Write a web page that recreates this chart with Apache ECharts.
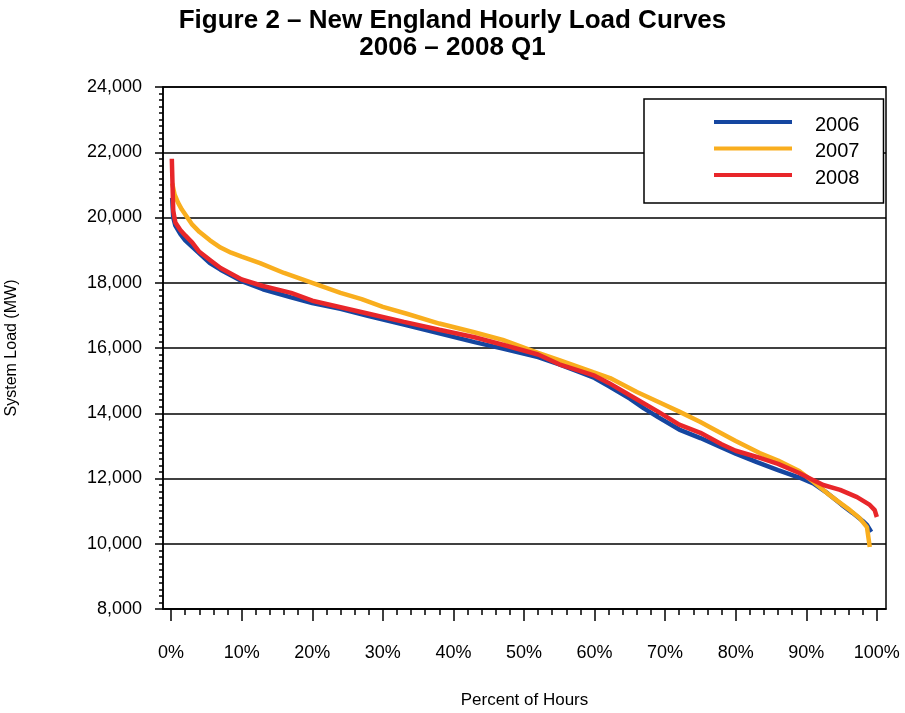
<!DOCTYPE html>
<html>
<head>
<meta charset="utf-8">
<script src="https://cdn.jsdelivr.net/npm/echarts@6/dist/echarts.min.js"></script>
<style>
  html, body { margin: 0; padding: 0; background: #fff; }
  #chart { width: 905px; height: 713px; }
</style>
</head>
<body>
<div id="chart"></div>
<script>
// load duration curves (percent of hours -> MW)
const pct2006 = [0.15, 0.3, 0.6, 1.3, 2, 3, 4, 5.5, 7, 10, 13, 17, 20, 24, 28, 33, 38, 43, 47, 52, 55, 58, 60, 62, 65, 67, 69, 72, 75, 78, 80, 83, 86, 89, 91, 93, 95, 96.6, 98, 98.6, 99.2]
const load2006 = [20600, 20000, 19750, 19500, 19300, 19100, 18900, 18600, 18400, 18050, 17800, 17550, 17380, 17200, 16980, 16720, 16450, 16180, 15980, 15720, 15500, 15250, 15080, 14830, 14450, 14150, 13880, 13500, 13240, 12950, 12760, 12500, 12260, 12030, 11850, 11550, 11200, 10940, 10700, 10580, 10360]

const pct2007 = [0.15, 0.5, 1, 1.5, 2.3, 3, 4, 5.5, 7, 8.5, 10, 12.6, 16, 19.7, 24, 27, 30, 33.4, 38, 42.8, 47, 52, 55, 59.8, 62.2, 66, 69.3, 72, 75, 76.3, 80, 83.4, 86, 89, 91, 92.9, 94.5, 96.2, 97.5, 98.6, 99]
const load2007 = [21050, 20700, 20450, 20250, 20000, 19780, 19560, 19300, 19080, 18920, 18800, 18600, 18300, 18020, 17690, 17500, 17260, 17050, 16750, 16490, 16250, 15850, 15630, 15260, 15080, 14650, 14320, 14050, 13730, 13580, 13150, 12780, 12550, 12230, 11900, 11560, 11300, 11030, 10800, 10510, 9900]

const pct2008 = [0.1, 0.2, 0.3, 0.6, 1.3, 2, 3, 4, 5.5, 7, 10, 13, 17, 20, 24, 28, 33, 38, 43, 47, 52, 55, 58, 60, 62, 65, 67, 69, 72, 75, 78, 80, 83, 86, 89, 91, 92.4, 94.8, 97.2, 99, 99.7, 100]
const load2008 = [21800, 21000, 20200, 19850, 19620, 19450, 19230, 18950, 18700, 18450, 18100, 17900, 17690, 17450, 17250, 17050, 16800, 16560, 16330, 16100, 15800, 15500, 15290, 15150, 14930, 14550, 14300, 14050, 13650, 13400, 13050, 12850, 12660, 12450, 12170, 11950, 11800, 11650, 11430, 11190, 11030, 10820]

const years = ['2006', '2007', '2008']
const colors = ['#1546a0', '#f9ae1e', '#e8262a']

const xMajorTicks = [0, 10, 20, 30, 40, 50, 60, 70, 80, 90, 100]
const xMinorTicks = [2, 4, 6, 8, 12, 14, 16, 18, 22, 24, 26, 28, 32, 34, 36, 38, 42, 44, 46, 48, 52, 54, 56, 58, 62, 64, 66, 68, 72, 74, 76, 78, 82, 84, 86, 88, 92, 94, 96, 98]

const zip = (xs, ys) => xs.map((x, i) => [x, ys[i]])
const allPct = [pct2006, pct2007, pct2008]
const allLoad = [load2006, load2007, load2008]

const FONT = '"Liberation Sans", Arial, sans-serif'
// thick legend line sitting a little above the middle of its row
const legendIcon = 'path://M0,0H78V4H0Z M0,9.9H0.01V10H0Z'
const myChart = echarts.init(document.getElementById('chart'))

myChart.setOption({
  animation: false,
  title: {
    text: 'Figure 2 – New England Hourly Load Curves\n2006 – 2008 Q1',
    left: 'center',
    top: 2,
    textStyle: { fontFamily: FONT, fontSize: 26, fontWeight: 'bold', color: '#000', lineHeight: 27 }
  },
  legend: {
    orient: 'vertical',
    left: 644,
    top: 99,
    data: years,
    icon: legendIcon,
    itemWidth: 78,
    itemHeight: 10,
    itemGap: 6.5,
    padding: [16, 24, 15, 70],
    backgroundColor: '#fff',
    borderColor: '#000',
    borderWidth: 1.5,
    borderRadius: 0,
    textStyle: { fontFamily: FONT, fontSize: 20, color: '#000', padding: [0, 0, 0, 18] }
  },
  grid: {
    left: 163,
    right: 19,
    top: 87,
    bottom: 104,
    outerBoundsMode: 'none',
    show: true,
    borderColor: '#000',
    borderWidth: 1.5
  },
  xAxis: [
    {
      type: 'value',
      min: -1.15,
      max: 101.3,
      name: 'Percent of Hours',
      nameLocation: 'middle',
      nameGap: 83,
      nameTextStyle: { fontFamily: FONT, fontSize: 17, color: '#000' },
      axisLine: { onZero: false, lineStyle: { color: '#000', width: 1.5 } },
      axisTick: { customValues: xMajorTicks, length: 12, lineStyle: { color: '#000', width: 1.5 } },
      axisLabel: {
        customValues: xMajorTicks,
        margin: 35,
        fontFamily: FONT,
        fontSize: 18,
        color: '#000',
        formatter: v => v + '%'
      },
      splitLine: { show: false }
    },
    {
      type: 'value',
      min: -1.15,
      max: 101.3,
      position: 'bottom',
      axisLine: { show: false, onZero: false },
      axisTick: { customValues: xMinorTicks, length: 6, lineStyle: { color: '#000', width: 1.5 } },
      axisLabel: { show: false },
      splitLine: { show: false }
    }
  ],
  yAxis: {
    type: 'value',
    min: 8000,
    max: 24000,
    interval: 2000,
    name: 'System Load (MW)',
    nameLocation: 'middle',
    nameGap: 143,
    nameTextStyle: { fontFamily: FONT, fontSize: 16, color: '#000' },
    axisLine: { show: true, onZero: false, lineStyle: { color: '#000', width: 1.5 } },
    axisTick: { show: true, length: 8, lineStyle: { color: '#000', width: 1.5 } },
    minorTick: { show: true, splitNumber: 10, length: 4, lineStyle: { color: '#000', width: 1.5 } },
    axisLabel: {
      margin: 21,
      fontFamily: FONT,
      fontSize: 18,
      color: '#000',
      formatter: v => v.toLocaleString('en-US')
    },
    splitLine: { show: true, lineStyle: { color: '#000', width: 1.5 } }
  },
  series: years.map((y, i) => ({
    name: y,
    type: 'line',
    xAxisIndex: 0,
    showSymbol: false,
    data: zip(allPct[i], allLoad[i]),
    lineStyle: { color: colors[i], width: 4.5 },
    itemStyle: { color: colors[i] }
  }))
})
</script>
</body>
</html>
